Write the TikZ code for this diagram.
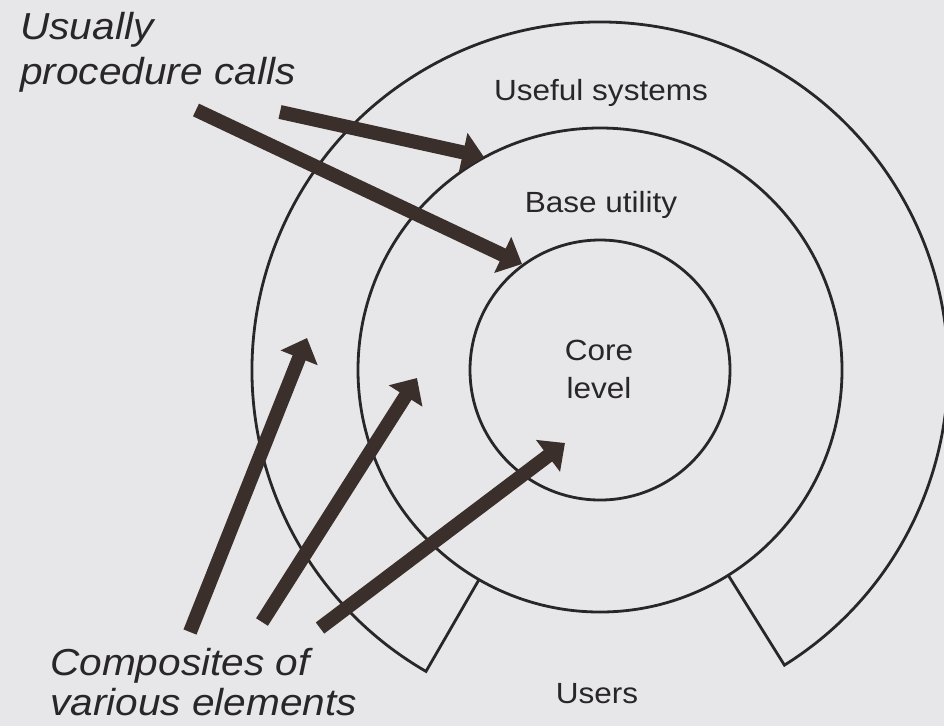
\documentclass[tikz,border=0pt]{standalone}
\usepackage{fontspec}
\setmainfont{Liberation Sans}[FakeStretch=1.08]
\usetikzlibrary{arrows.meta}
\definecolor{paper}{RGB}{231,231,233}
\definecolor{ink}{RGB}{40,38,38}
\definecolor{arrowink}{RGB}{58,47,43}
\begin{document}
\begin{tikzpicture}[x=0.75pt,y=0.75pt,
  ring/.style={draw=ink, line width=2.1pt},
  ringlabel/.style={inner sep=0pt, anchor=base, text=ink, font=\fontsize{21.9}{26}\selectfont},
  note/.style={inner sep=0pt, anchor=base west, text=ink, font=\fontsize{28.2}{34}\selectfont\itshape},
  bigarrow/.style={draw=arrowink, line width=10.5pt, -{Triangle[length=16pt,width=29pt]}}]
\fill[paper] (0,0) rectangle (944,-726);
\useasboundingbox (0,0) rectangle (944,-726);
\coordinate (C) at (600,-370);
% outer ring with opening at the bottom
\draw[ring] ([shift={(-58:242)}]C) -- ([shift={(-58:348)}]C)
  arc[start angle=-58,end angle=240,radius=348] -- ([shift={(240:242)}]C);
\node[ring, circle, minimum size=363pt, inner sep=0pt] (base) at (C) {};
\node[ring, circle, minimum size=195pt, inner sep=0pt] (core) at (C) {};
% labels
\node[ringlabel] (useful) at (601,-100) {Useful systems};
\node[ringlabel] (baseutil) at (601,-212) {Base utility};
\node[ringlabel] (core1) at (599,-360) {Core};
\node[ringlabel] (core2) at (599,-398) {level};
\node[ringlabel] (users) at (597,-703) {Users};
\node[note] (n1) at (20,-39) {Usually};
\node[note] (n2) at (20,-84) {procedure calls};
\node[note] (n3) at (50,-675) {Composites of};
\node[note] (n4) at (50,-715) {various elements};
% arrows
\coordinate (a1s) at (280,-112); \coordinate (a1e) at (484,-157);
\coordinate (a2s) at (196,-110); \coordinate (a2e) at (522,-264);
\coordinate (a3s) at (190,-632); \coordinate (a3e) at (307,-338);
\coordinate (a4s) at (262,-622); \coordinate (a4e) at (417,-378);
\coordinate (a5s) at (320,-628); \coordinate (a5e) at (565,-443);
\draw[bigarrow] (a1s) -- (a1e);
\draw[bigarrow] (a2s) -- (a2e);
\draw[bigarrow] (a3s) -- (a3e);
\draw[bigarrow] (a4s) -- (a4e);
\draw[bigarrow] (a5s) -- (a5e);
\end{tikzpicture}
\end{document}
